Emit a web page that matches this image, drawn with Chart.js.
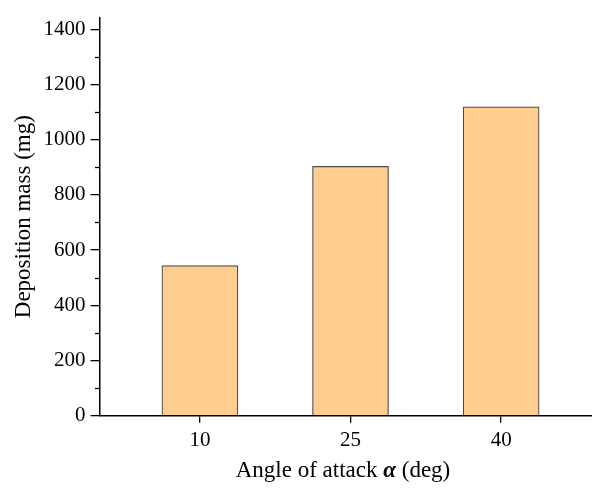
<!DOCTYPE html>
<html>
<head>
<meta charset="utf-8">
<script src="https://cdn.jsdelivr.net/npm/chart.js@4/dist/chart.umd.min.js"></script>
<style>
  html, body { margin: 0; padding: 0; background: #fff; }
  #wrap { width: 592px; height: 491px; }
</style>
</head>
<body>
<div id="wrap"><canvas id="massChart"></canvas></div>
<script>
// angle of attack (deg) and deposition mass (mg)
var angles = [10, 25, 40];
var masses = [544, 903, 1119];
var yMajorTicks = [0, 200, 400, 600, 800, 1000, 1200, 1400];
var yMinorTicks = [100, 300, 500, 700, 900, 1100, 1300];

var FONT = "'Liberation Serif', 'Times New Roman', serif";

// short minor tick marks on the y axis, plus the x title with a bold italic alpha
var extras = {
  id: 'extras',
  afterDraw: function (chart) {
    var ctx = chart.ctx;
    var y = chart.scales.y;
    var left = chart.chartArea.left;
    ctx.save();
    ctx.strokeStyle = '#000';
    ctx.lineWidth = 1.3;
    yMinorTicks.forEach(function (v) {
      var py = Math.round(y.getPixelForValue(v)) + 0.5;
      ctx.beginPath();
      ctx.moveTo(left - 4.5, py);
      ctx.lineTo(left, py);
      ctx.stroke();
    });

    // x axis title
    var parts = [
      { t: 'Angle of attack ', f: '23px ' + FONT },
      { t: 'α', f: 'italic bold 23px ' + FONT },
      { t: ' (deg)', f: '23px ' + FONT }
    ];
    var total = 0;
    parts.forEach(function (p) { ctx.font = p.f; p.w = ctx.measureText(p.t).width; total += p.w; });
    var x0 = 343 - total / 2;
    ctx.fillStyle = '#000';
    ctx.textBaseline = 'alphabetic';
    ctx.textAlign = 'left';
    parts.forEach(function (p) { ctx.font = p.f; ctx.fillText(p.t, x0, 477); x0 += p.w; });
    ctx.restore();
  }
};

var ctx = document.getElementById('massChart').getContext('2d');
var massChart = new Chart(ctx, {
  type: 'bar',
  data: {
    datasets: [{
      data: angles.map(function (a, i) { return { x: a, y: masses[i] }; }),
      backgroundColor: '#fecd8f',
      borderColor: '#4a4a4a',
      borderWidth: 1.2,
      borderSkipped: 'bottom',
      barThickness: 76
    }]
  },
  options: {
    responsive: true,
    maintainAspectRatio: false,
    animation: false,
    layout: { padding: { top: 12, right: 0, left: 0, bottom: 0 } },
    plugins: {
      legend: { display: false },
      tooltip: { enabled: false }
    },
    scales: {
      x: {
        type: 'linear',
        offset: false,
        min: 0,
        max: 49.05,
        afterBuildTicks: function (scale) {
          scale.ticks = angles.map(function (v) { return { value: v }; });
        },
        afterFit: function (scale) { scale.height = 75.3; },
        grid: { offset: false, drawOnChartArea: false, tickLength: 7, color: '#000', lineWidth: 1.3 },
        border: { color: '#000', width: 1.5 },
        ticks: {
          color: '#000',
          padding: 5,
          maxRotation: 0,
          autoSkip: false,
          callback: function (v) { return String(v); },
          font: { family: FONT, size: 21 }
        }
      },
      y: {
        min: 0,
        max: 1442,
        afterBuildTicks: function (scale) {
          scale.ticks = yMajorTicks.map(function (v) { return { value: v }; });
        },
        afterFit: function (scale) { scale.width = 99.5; },
        grid: { drawOnChartArea: false, tickLength: 9, color: '#000', lineWidth: 1.3 },
        border: { color: '#000', width: 1.5 },
        ticks: {
          color: '#000',
          padding: 5,
          callback: function (v) { return String(v); },
          font: { family: FONT, size: 21 }
        },
        title: {
          display: true,
          text: 'Deposition mass (mg)',
          color: '#000',
          font: { family: FONT, size: 23 },
          padding: { top: 10, bottom: 0 }
        }
      }
    }
  },
  plugins: [extras]
});
</script>
</body>
</html>
